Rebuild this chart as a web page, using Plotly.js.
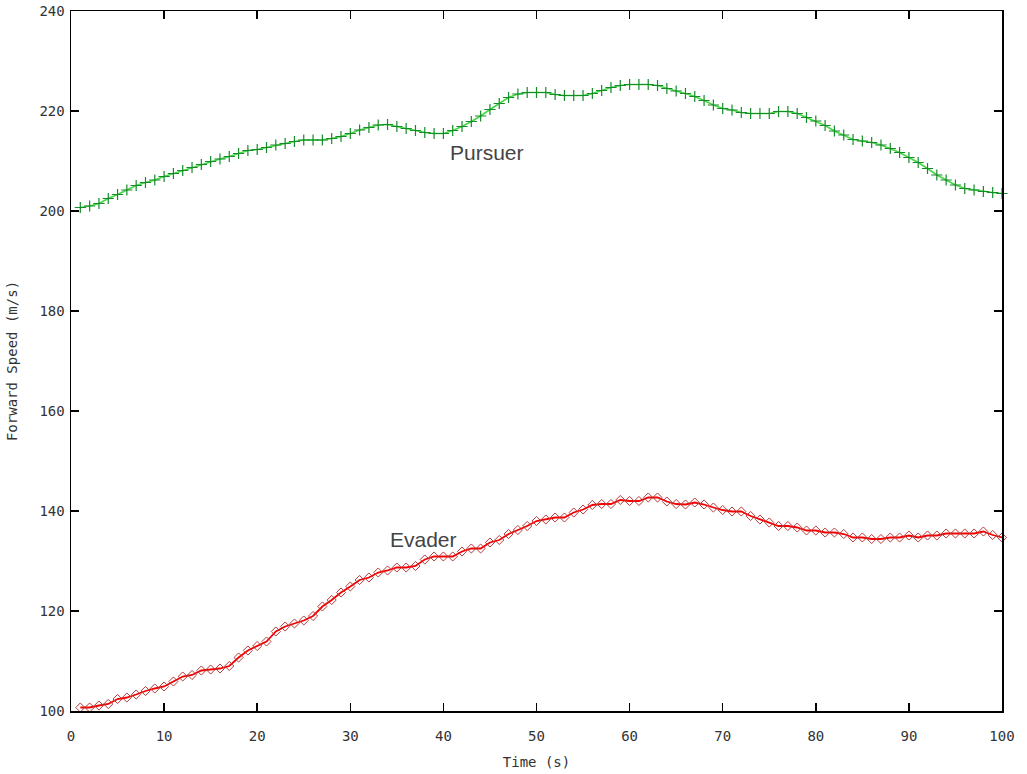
<!DOCTYPE html>
<html>
<head>
<meta charset="utf-8">
<script src="https://cdn.plot.ly/plotly-3.0.1.min.js"></script>
<style>html,body{margin:0;padding:0;background:#fff;}#chart{width:1027px;height:774px;}</style>
</head>
<body>
<div id="chart"></div>
<script>
const time = [];
for (let i = 1; i <= 100; i++) time.push(i);

const pursuer = [
200.7,201.0,201.5,202.5,203.3,204.2,205.1,205.7,206.2,206.9,
207.5,208.1,208.7,209.3,209.9,210.4,210.9,211.5,212.1,212.3,
212.7,213.2,213.5,213.9,214.2,214.2,214.2,214.5,214.9,215.5,
216.2,216.7,217.2,217.3,216.9,216.5,216.1,215.7,215.5,215.5,
216.1,216.9,217.9,219.0,220.3,221.5,222.7,223.4,223.7,223.7,
223.7,223.3,223.1,223.1,223.1,223.5,224.1,224.7,225.1,225.3,
225.3,225.3,225.1,224.5,224.0,223.5,222.9,222.1,221.2,220.5,
220.2,219.7,219.5,219.5,219.5,219.9,219.9,219.5,218.7,218.0,
217.1,216.0,215.2,214.3,214.0,213.7,213.2,212.5,211.7,210.7,
209.7,208.5,207.2,206.2,205.2,204.5,204.2,203.9,203.7,203.5
];

const evader = [
100.7,100.7,101.1,101.4,102.4,102.7,103.3,104.0,104.5,104.9,
105.9,106.9,107.2,108.1,108.3,108.5,109.0,110.7,112.1,113.0,
113.9,115.9,116.9,117.5,118.1,119.0,120.9,122.2,123.7,124.9,
126.2,126.7,127.7,128.1,128.7,128.7,129.0,130.3,130.9,130.9,
130.9,131.9,132.5,132.5,133.7,134.2,135.4,136.2,137.0,138.0,
138.3,138.7,138.7,139.7,140.3,141.2,141.4,141.4,142.2,142.0,
142.0,142.7,142.7,141.9,141.4,141.3,141.7,141.3,140.7,140.2,
139.9,139.9,139.0,138.3,137.7,137.0,137.0,136.7,136.1,136.1,
135.7,135.7,135.4,134.7,134.7,134.4,134.4,134.7,134.7,135.1,
134.7,135.1,135.1,135.5,135.5,135.5,135.5,135.9,135.2,134.7
];

const xTicks = [0,10,20,30,40,50,60,70,80,90,100];
const yTicks = [100,120,140,160,180,200,220,240];

const traces = [
  {
    x: time, y: pursuer, type: 'scatter', mode: 'lines+markers', name: 'Pursuer',
    line: {color: 'rgb(70,215,70)', width: 1.6},
    marker: {symbol: 'cross-thin', size: 8, line: {color: 'rgb(20,140,40)', width: 1.2}},
    hoverinfo: 'skip', cliponaxis: false
  },
  {
    x: time, y: evader, type: 'scatter', mode: 'lines+markers', name: 'Evader',
    line: {color: 'rgb(245,0,0)', width: 1.8},
    marker: {symbol: 'diamond-open', size: 7, color: 'rgb(180,60,60)', line: {color: 'rgb(180,60,60)', width: 1}},
    hoverinfo: 'skip', cliponaxis: false
  }
];

const axisCommon = {
  showgrid: false, zeroline: false, showline: true, linecolor: '#000', linewidth: 1.5,
  mirror: 'ticks', ticks: 'inside', ticklen: 8, tickwidth: 1.5, tickcolor: '#000',
  tickfont: {family: 'DejaVu Sans Mono', size: 14, color: '#333'}
};

const layout = {
  width: 1027, height: 774,
  margin: {l: 71, r: 25, t: 11, b: 63},
  paper_bgcolor: '#fff', plot_bgcolor: '#fff',
  showlegend: false,
  xaxis: Object.assign({}, axisCommon, {
    range: [0, 100], tickvals: xTicks, ticktext: xTicks.map(String), ticklabelstandoff: 12,
    title: {text: 'Time (s)', font: {family: 'DejaVu Sans Mono', size: 14, color: '#333'}, standoff: 14}
  }),
  yaxis: Object.assign({}, axisCommon, {
    range: [100, 240], tickvals: yTicks, ticktext: yTicks.map(String), ticklabelstandoff: 2,
    title: {text: 'Forward Speed (m/s)', font: {family: 'DejaVu Sans Mono', size: 14, color: '#333'}, standoff: 18}
  }),
  annotations: [
    {x: 40.5, y: 211.8, xref: 'x', yref: 'y', text: 'Pursuer', showarrow: false, xanchor: 'left', yanchor: 'middle',
     font: {family: 'Liberation Sans', size: 21, color: '#444'}},
    {x: 34.0, y: 134.4, xref: 'x', yref: 'y', text: 'Evader', showarrow: false, xanchor: 'left', yanchor: 'middle',
     font: {family: 'Liberation Sans', size: 21, color: '#444'}}
  ]
};

Plotly.newPlot('chart', traces, layout, {displayModeBar: false, staticPlot: true});
</script>
</body>
</html>
